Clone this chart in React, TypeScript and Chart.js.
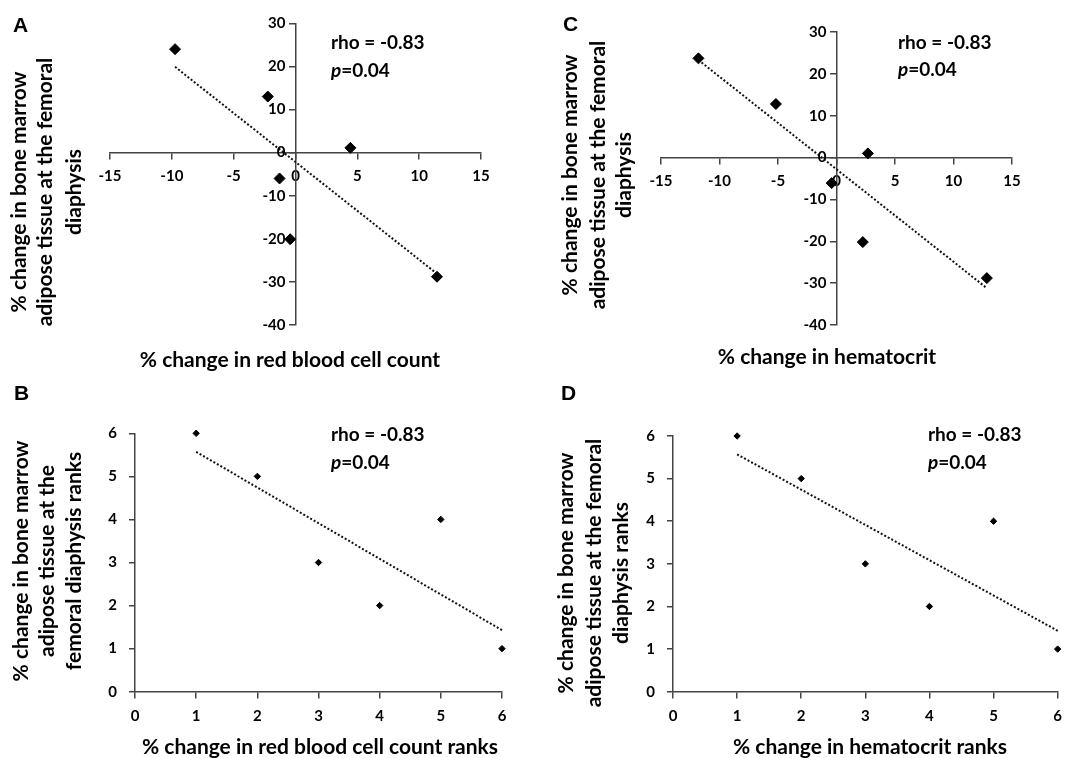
import React, { useEffect, useRef } from 'react';
import { Chart, registerables } from 'chart.js';

Chart.register(...registerables);

const FONT = 'Lato, "Open Sans", "DejaVu Sans", sans-serif';
const LETTER_FONT = '"Liberation Sans", Arial, sans-serif';

Chart.defaults.font.family = FONT;
Chart.defaults.font.size = 15;
(Chart.defaults.font as any).weight = 'bold';
Chart.defaults.color = '#000';

// ---- Panel A: % change in RBC count vs % change in BMAT ----
const rbcChange = [-9.74, -2.24, 4.44, -1.29, -0.43, 11.44];
const bmatChangeA = [24.0, 13.0, 1.1, -6.0, -20.1, -28.8];
const trendAx = [-9.74, 11.44];
const trendAy = [19.9, -28.1];

// ---- Panel C: % change in hematocrit vs % change in BMAT ----
const hctChange = [-11.8, -5.18, 2.68, -0.41, 2.25, 12.85];
const bmatChangeC = [23.7, 12.8, 1.0, -6.1, -20.2, -28.8];
const trendCx = [-11.8, 12.85];
const trendCy = [23.3, -31.2];

// ---- Panel B: ranks (RBC) ----
const rbcRanks = [1, 2, 3, 4, 5, 6];
const bmatRanksB = [6, 5, 3, 2, 4, 1];
const trendBx = [1, 6];
const trendBy = [5.57, 1.43];

// ---- Panel D: ranks (hematocrit) ----
const hctRanks = [1, 2, 3, 4, 5, 6];
const bmatRanksD = [6, 5, 3, 2, 4, 1];
const trendDx = [1, 6];
const trendDy = [5.57, 1.43];

const rhoText = 'rho = -0.83';
const pText = '=0.04';

const yTitleA = ['% change in bone marrow', 'adipose tissue at the femoral', 'diaphysis'];
const yTitleB = ['% change in bone marrow', 'adipose tissue at the', 'femoral diaphysis ranks'];
const yTitleD = ['% change in bone marrow', 'adipose tissue at the femoral', 'diaphysis ranks'];

type Panel = {
  letter: string;
  centered: boolean;
  canvas: { x: number; y: number; w: number; h: number };
  area: { l: number; r: number; t: number; b: number };
  xs: number[];
  ys: number[];
  tx: number[];
  ty: number[];
  xMin: number; xMax: number; xStep: number;
  yMin: number; yMax: number; yStep: number;
  radius: number;
  letterPos: [number, number];
  rhoPos: [number, number, number];
  yTitle: string[];
  yTitleX: number[];
  yTitleY: number;
  xTitle: string;
  xTitlePos: [number, number];
};

const panels: Panel[] = [
  {
    letter: 'A', centered: true,
    canvas: { x: 0, y: 0, w: 536, h: 380 },
    area: { l: 110, r: 481, t: 23.3, b: 325 },
    xs: rbcChange, ys: bmatChangeA, tx: trendAx, ty: trendAy,
    xMin: -15, xMax: 15, xStep: 5, yMin: -40, yMax: 30, yStep: 10,
    radius: 5.5,
    letterPos: [13, 32],
    rhoPos: [331, 43, 71],
    yTitle: yTitleA, yTitleX: [19, 45, 74], yTitleY: 192,
    xTitle: '% change in red blood cell count', xTitlePos: [290, 360],
  },
  {
    letter: 'C', centered: true,
    canvas: { x: 535, y: 0, w: 536, h: 380 },
    area: { l: 661, r: 1012, t: 32, b: 325 },
    xs: hctChange, ys: bmatChangeC, tx: trendCx, ty: trendCy,
    xMin: -15, xMax: 15, xStep: 5, yMin: -40, yMax: 30, yStep: 10,
    radius: 5.5,
    letterPos: [563, 31],
    rhoPos: [898, 43, 70],
    yTitle: yTitleA, yTitleX: [570, 598, 624], yTitleY: 175,
    xTitle: '% change in hematocrit', xTitlePos: [827, 357],
  },
  {
    letter: 'B', centered: false,
    canvas: { x: 0, y: 380, w: 536, h: 378 },
    area: { l: 135, r: 502, t: 433.3, b: 691.7 },
    xs: rbcRanks, ys: bmatRanksB, tx: trendBx, ty: trendBy,
    xMin: 0, xMax: 6, xStep: 1, yMin: 0, yMax: 6, yStep: 1,
    radius: 3.2,
    letterPos: [14, 400],
    rhoPos: [331, 435, 463],
    yTitle: yTitleB, yTitleX: [21, 47, 74], yTitleY: 561,
    xTitle: '% change in red blood cell count ranks', xTitlePos: [320, 747],
  },
  {
    letter: 'D', centered: false,
    canvas: { x: 535, y: 380, w: 536, h: 378 },
    area: { l: 673, r: 1065, t: 436, b: 691.7 },
    xs: hctRanks, ys: bmatRanksD, tx: trendDx, ty: trendDy,
    xMin: 0, xMax: 6, xStep: 1, yMin: 0, yMax: 6, yStep: 1,
    radius: 3.2,
    letterPos: [561, 400],
    rhoPos: [928, 435, 463],
    yTitle: yTitleD, yTitleX: [566, 594, 621], yTitleY: 573,
    xTitle: '% change in hematocrit ranks', xTitlePos: [870, 747],
  },
];

const AXIS_COLOR = '#444';
const Y_SCALE_WIDTH = 60;

function PanelChart({ p }: { p: Panel }) {
  const ref = useRef<HTMLCanvasElement | null>(null);
  useEffect(() => {
    if (!ref.current) return;
    const ox = p.canvas.x;
    const oy = p.canvas.y;
    const textPlugin = {
      id: 'panelText' + p.letter,
      afterDraw(chart: any) {
        const ctx = chart.ctx as CanvasRenderingContext2D;
        ctx.save();
        ctx.fillStyle = '#000';
        ctx.font = `bold 21px ${LETTER_FONT}`;
        ctx.textAlign = 'left';
        ctx.textBaseline = 'alphabetic';
        ctx.fillText(p.letter, p.letterPos[0] - ox, p.letterPos[1] - oy);
        ctx.font = `bold 19px ${FONT}`;
        ctx.textBaseline = 'middle';
        ctx.fillText(rhoText, p.rhoPos[0] - ox, p.rhoPos[1] - oy);
        ctx.font = `italic bold 19px ${FONT}`;
        ctx.fillText('p', p.rhoPos[0] - ox, p.rhoPos[2] - oy);
        const w = ctx.measureText('p').width;
        ctx.font = `bold 19px ${FONT}`;
        ctx.fillText(pText, p.rhoPos[0] - ox + w, p.rhoPos[2] - oy);
        ctx.font = `bold 21px ${FONT}`;
        ctx.textAlign = 'center';
        ctx.fillText(p.xTitle, p.xTitlePos[0] - ox, p.xTitlePos[1] - oy);
        p.yTitle.forEach((line, i) => {
          ctx.save();
          ctx.translate(p.yTitleX[i] - ox, p.yTitleY - oy);
          ctx.rotate(-Math.PI / 2);
          ctx.textAlign = 'center';
          ctx.textBaseline = 'middle';
          ctx.fillText(line, 0, 0);
          ctx.restore();
        });
        ctx.restore();
      },
    };
    const tickFont = { family: FONT, size: 15, weight: 'bold' as const };
    const gridOpts = { display: true, drawOnChartArea: false, drawTicks: true, tickLength: 6, color: AXIS_COLOR, lineWidth: 1.5 };
    const borderOpts = { display: true, color: AXIS_COLOR, width: 1.5 };
    const yScale: any = {
      type: 'linear',
      min: p.yMin,
      max: p.yMax,
      ticks: { stepSize: p.yStep, font: tickFont, color: '#000', padding: p.centered ? 4 : 12 },
      grid: gridOpts,
      border: borderOpts,
    };
    if (p.centered) {
      yScale.position = 'center';
    } else {
      yScale.position = 'left';
      yScale.afterFit = (s: any) => { s.width = Y_SCALE_WIDTH; };
    }
    const leftPad = p.area.l - ox - (p.centered ? 0 : Y_SCALE_WIDTH);
    const chart = new Chart(ref.current, {
      type: 'scatter',
      data: {
        datasets: [
          {
            data: p.xs.map((x, i) => ({ x, y: p.ys[i] })),
            pointStyle: 'rectRot',
            pointRadius: p.radius,
            backgroundColor: '#000',
            borderColor: '#000',
            borderWidth: 1,
            clip: false,
          },
          {
            data: p.tx.map((x, i) => ({ x, y: p.ty[i] })),
            showLine: true,
            pointRadius: 0,
            borderColor: '#111',
            borderWidth: 2,
            borderDash: [2, 2],
            clip: false,
          },
        ],
      } as any,
      options: {
        animation: false,
        responsive: false,
        maintainAspectRatio: false,
        layout: {
          padding: {
            left: leftPad,
            right: ox + p.canvas.w - p.area.r,
            top: p.area.t - oy,
            bottom: oy + p.canvas.h - p.area.b,
          },
        },
        plugins: {
          legend: { display: false },
          tooltip: { enabled: false },
          title: { display: false },
        },
        scales: {
          x: {
            type: 'linear',
            position: { y: 0 } as any,
            min: p.xMin,
            max: p.xMax,
            ticks: { stepSize: p.xStep, font: tickFont, color: '#000', padding: 9, maxRotation: 0 },
            grid: gridOpts,
            border: borderOpts,
          },
          y: yScale,
        },
      } as any,
      plugins: [textPlugin],
    });
    return () => chart.destroy();
  }, [p]);
  return (
    <canvas
      ref={ref}
      width={p.canvas.w}
      height={p.canvas.h}
      style={{ position: 'absolute', left: p.canvas.x, top: p.canvas.y, width: p.canvas.w, height: p.canvas.h }}
    />
  );
}

export default function App() {
  return (
    <div style={{ position: 'absolute', left: 0, top: 0, width: 1071, height: 758, background: '#fff', overflow: 'hidden' }}>
      {panels.map((p) => (
        <PanelChart key={p.letter} p={p} />
      ))}
    </div>
  );
}
